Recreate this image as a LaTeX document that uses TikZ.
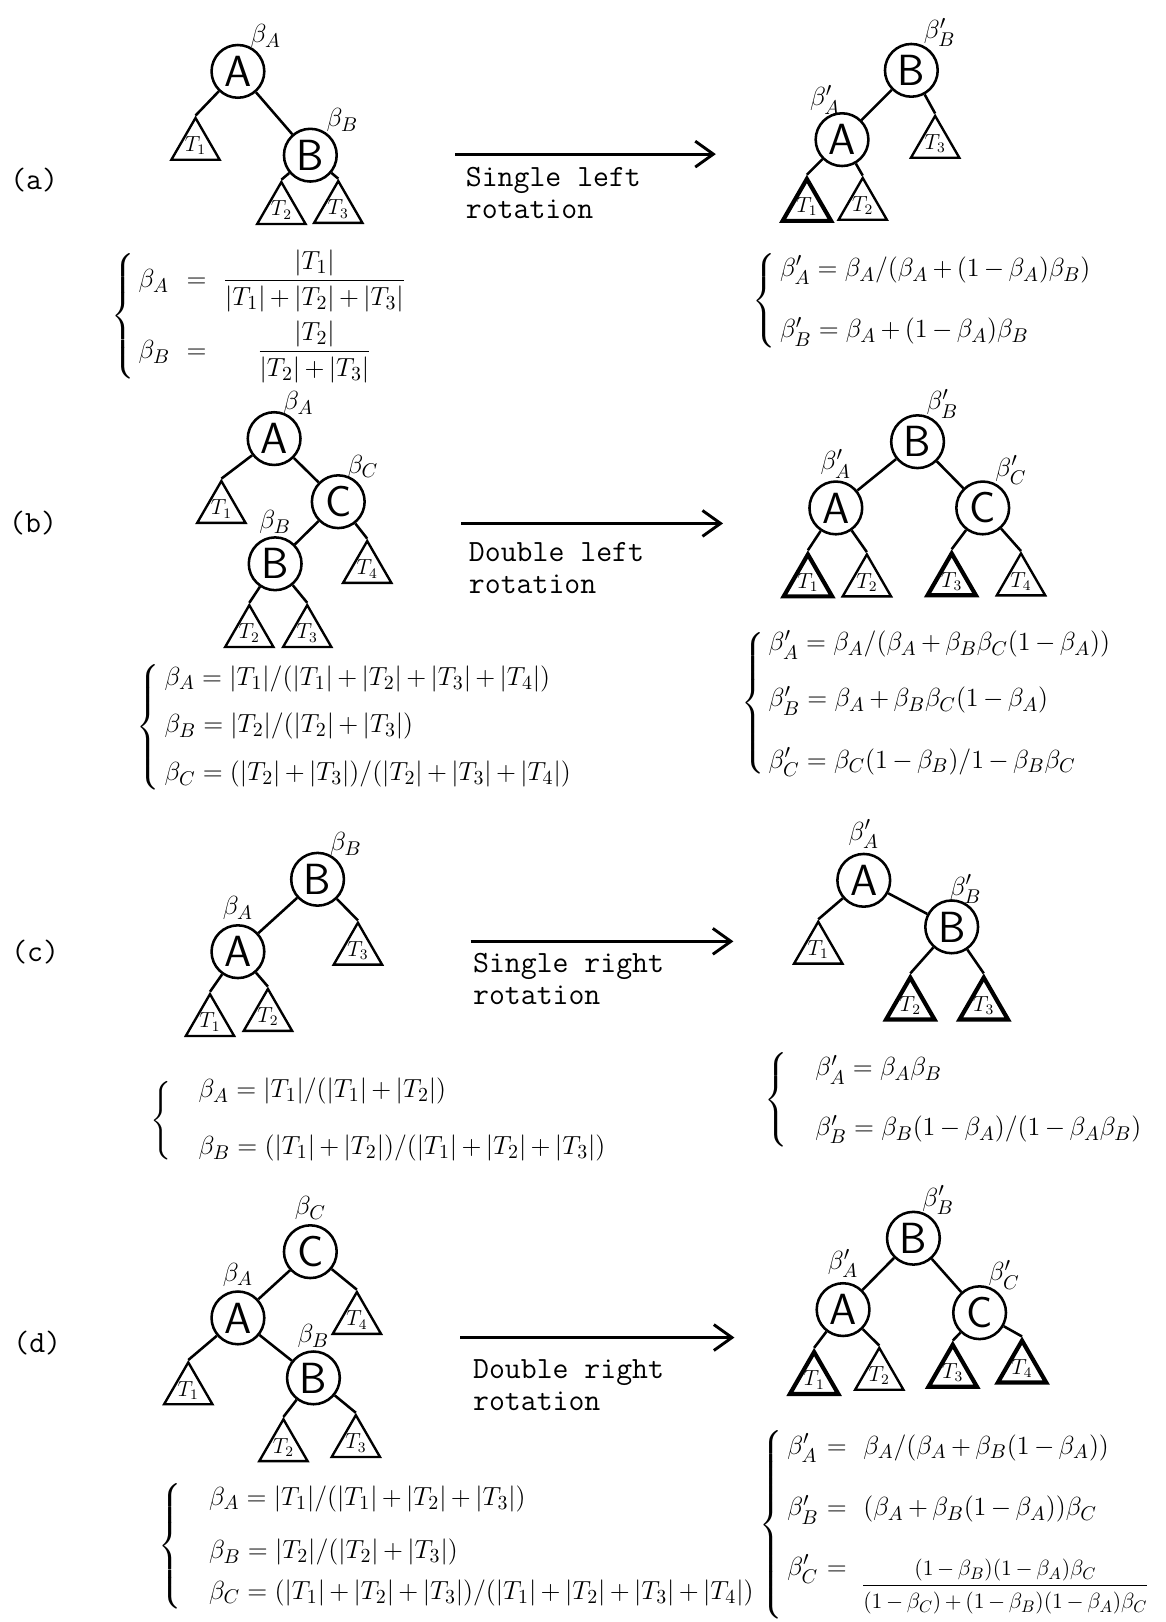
\documentclass[tikz,border=0pt]{standalone}
\usepackage{amsmath}
\usepackage{graphicx}
\usetikzlibrary{arrows.meta,positioning,shapes.geometric}
\tikzset{
  vertex/.style={
    circle,
    draw,
    line width=1.4pt,
    minimum size=1.02cm,
    inner sep=0pt,
    font=\fontsize{24}{24}\selectfont\sffamily
  },
  subtree/.style={
    regular polygon,
    regular polygon sides=3,
    draw,
    line width=1.3pt,
    minimum size=1.08cm,
    inner sep=-3pt,
    font=\fontsize{12}{12}\selectfont
  },
  heavy/.style={line width=2.3pt},
  weight/.style={font=\fontsize{15}{15}\selectfont, inner sep=0pt},
  tag/.style={font=\fontsize{17}{17}\selectfont\ttfamily, inner sep=0pt},
  caption/.style={
    font=\fontsize{17}{17.6}\selectfont\ttfamily,
    align=left,
    anchor=north west,
    inner sep=0pt
  },
  eqs/.style={font=\fontsize{15}{15}\selectfont, anchor=west, inner sep=0pt},
  link/.style={line width=1.4pt},
  rot/.style={-{Straight Barb[length=3.5mm,width=5mm]}, line width=1.6pt}
}

\begin{document}
\medmuskip=3mu\relax
\begin{tikzpicture}[x=0.02cm, y=-0.02cm]
  \useasboundingbox (0,0) rectangle (1127,1568);

  % (a)
  \node[tag] (la) at (33,174) {(a)};
  \node[vertex] (aA) at (230,69) {A};
  \node[vertex] (aB) at (300,150) {B};
  \node[subtree] (aT1) at (189,141) {$T_1$};
  \node[subtree] (aT2) at (272,203) {$T_2$};
  \node[subtree] (aT3) at (327,202) {$T_3$};
  \node[weight, above right=2pt and -4pt of aA] (waA) {$\beta_A$};
  \node[weight, above right=2pt and -2pt of aB] (waB) {$\beta_B$};
  \draw[link] (aA) -- (aT1.corner 1);
  \draw[link] (aA) -- (aB);
  \draw[link] (aB) -- (aT2.corner 1);
  \draw[link] (aB) -- (aT3.corner 1);

  \coordinate (aS) at (440,149);
  \coordinate (aE) at (692,149);
  \draw[rot] (aS) -- (aE);
  \node[caption] (ca) at (450,161) {Single left\\rotation};

  \node[vertex] (aBn) at (881,68) {B};
  \node[vertex] (aAn) at (814,135) {A};
  \node[subtree] (aT3n) at (904,139) {$T_3$};
  \node[subtree, heavy] (aT1n) at (780,200) {$T_1$};
  \node[subtree] (aT2n) at (834,199) {$T_2$};
  \node[weight, above right=2pt and -4pt of aBn] (waBn) {$\beta_B'$};
  \node[weight, above left=3pt and -10pt of aAn] (waAn) {$\beta_A'$};
  \draw[link] (aBn) -- (aAn);
  \draw[link] (aBn) -- (aT3n.corner 1);
  \draw[link] (aAn) -- (aT1n.corner 1);
  \draw[link] (aAn) -- (aT2n.corner 1);

  \node[eqs] (fa) at (107,306) {$\left\{\begin{array}{@{\,}l@{\ \ =\ \ }c@{}}
      \beta_A & \dfrac{|T_1|}{|T_1|+|T_2|+|T_3|}\\[14pt]
      \beta_B & \dfrac{|T_2|}{|T_2|+|T_3|}
    \end{array}\right.$};
  \node[eqs] (fan) at (727,291) {$\left\{\begin{array}{@{\,}l@{}}
      \beta_A' = \beta_A/(\beta_A+(1-\beta_A)\beta_B)\\[18pt]
      \beta_B' = \beta_A+(1-\beta_A)\beta_B
    \end{array}\right.$};

  % (b)
  \node[tag] (lb) at (32,506) {(b)};
  \node[vertex] (bA) at (265,424) {A};
  \node[vertex] (bC) at (327,485) {C};
  \node[vertex] (bB) at (266,545) {B};
  \node[subtree] (bT1) at (214,492) {$T_1$};
  \node[subtree] (bT4) at (355,550) {$T_4$};
  \node[subtree] (bT2) at (241,612) {$T_2$};
  \node[subtree] (bT3) at (297,612) {$T_3$};
  \node[weight, above right=2pt and -6pt of bA] (wbA) {$\beta_A$};
  \node[weight, above right=2pt and -6pt of bC] (wbC) {$\beta_C$};
  \node[weight, above=1pt of bB] (wbB) {$\beta_B$};
  \draw[link] (bA) -- (bT1.corner 1);
  \draw[link] (bA) -- (bC);
  \draw[link] (bC) -- (bB);
  \draw[link] (bC) -- (bT4.corner 1);
  \draw[link] (bB) -- (bT2.corner 1);
  \draw[link] (bB) -- (bT3.corner 1);

  \coordinate (bS) at (446,506);
  \coordinate (bE) at (699,506);
  \draw[rot] (bS) -- (bE);
  \node[caption] (cb) at (453,524) {Double left\\rotation};

  \node[vertex] (bBn) at (887,427) {B};
  \node[vertex] (bAn) at (808,491) {A};
  \node[vertex] (bCn) at (950,491) {C};
  \node[subtree, heavy] (bT1n) at (781,563) {$T_1$};
  \node[subtree] (bT2n) at (838,563) {$T_2$};
  \node[subtree, heavy] (bT3n) at (920,562) {$T_3$};
  \node[subtree] (bT4n) at (987,562) {$T_4$};
  \node[weight, above right=2pt and -6pt of bBn] (wbBn) {$\beta_B'$};
  \node[weight, above=1pt of bAn] (wbAn) {$\beta_A'$};
  \node[weight, above right=2pt and -4pt of bCn] (wbCn) {$\beta_C'$};
  \draw[link] (bBn) -- (bAn);
  \draw[link] (bBn) -- (bCn);
  \draw[link] (bAn) -- (bT1n.corner 1);
  \draw[link] (bAn) -- (bT2n.corner 1);
  \draw[link] (bCn) -- (bT3n.corner 1);
  \draw[link] (bCn) -- (bT4n.corner 1);

  \node[eqs] (fb) at (132,703) {$\left\{\begin{array}{@{\,}l@{}}
      \beta_A = |T_1|/(|T_1|+|T_2|+|T_3|+|T_4|)\\[11pt]
      \beta_B = |T_2|/(|T_2|+|T_3|)\\[11pt]
      \beta_C = (|T_2|+|T_3|)/(|T_2|+|T_3|+|T_4|)
    \end{array}\right.$};
  \node[eqs] (fbn) at (716,680) {$\left\{\begin{array}{@{\,}l@{}}
      \beta_A' = \beta_A/(\beta_A+\beta_B\beta_C(1-\beta_A))\\[15pt]
      \beta_B' = \beta_A+\beta_B\beta_C(1-\beta_A)\\[18pt]
      \beta_C' = \beta_C(1-\beta_B)/1-\beta_B\beta_C
    \end{array}\right.$};

  % (c)
  \node[tag] (lc) at (34,920) {(c)};
  \node[vertex] (cB) at (307,850) {B};
  \node[vertex] (cA) at (230,920) {A};
  \node[subtree] (cT3) at (346,919) {$T_3$};
  \node[subtree] (cT1) at (203,988) {$T_1$};
  \node[subtree] (cT2) at (259,983) {$T_2$};
  \node[weight, above right=2pt and -4pt of cB] (wcB) {$\beta_B$};
  \node[weight, above=2pt of cA] (wcA) {$\beta_A$};
  \draw[link] (cB) -- (cA);
  \draw[link] (cB) -- (cT3.corner 1);
  \draw[link] (cA) -- (cT1.corner 1);
  \draw[link] (cA) -- (cT2.corner 1);

  \coordinate (cS) at (455,910);
  \coordinate (cE) at (709,910);
  \draw[rot] (cS) -- (cE);
  \node[caption] (cc) at (457,921) {Single right\\rotation};

  \node[vertex] (cAn) at (835,851) {A};
  \node[vertex] (cBn) at (920,896) {B};
  \node[subtree] (cT1n) at (791,918) {$T_1$};
  \node[subtree, heavy] (cT2n) at (880,972) {$T_2$};
  \node[subtree, heavy] (cT3n) at (951,972) {$T_3$};
  \node[weight, above=2pt of cAn] (wcAn) {$\beta_A'$};
  \node[weight, above right=2pt and -12pt of cBn] (wcBn) {$\beta_B'$};
  \draw[link] (cAn) -- (cT1n.corner 1);
  \draw[link] (cAn) -- (cBn);
  \draw[link] (cBn) -- (cT2n.corner 1);
  \draw[link] (cBn) -- (cT3n.corner 1);

  \node[eqs] (fc) at (145,1083) {$\left\{\begin{array}{@{\quad}l@{}}
      \beta_A = |T_1|/(|T_1|+|T_2|)\\[16pt]
      \beta_B = (|T_1|+|T_2|)/(|T_1|+|T_2|+|T_3|)
    \end{array}\right.$};
  \node[eqs] (fcn) at (739,1063) {$\left\{\begin{array}{@{\quad}l@{}}
      \beta_A' = \beta_A\beta_B\\[17pt]
      \beta_B' = \beta_B(1-\beta_A)/(1-\beta_A\beta_B)
    \end{array}\right.$};

  % (d)
  \node[tag] (ld) at (36,1298) {(d)};
  \node[vertex] (dC) at (300,1210) {C};
  \node[vertex] (dA) at (230,1274) {A};
  \node[vertex] (dB) at (303,1332) {B};
  \node[subtree] (dT4) at (345,1276) {$T_4$};
  \node[subtree] (dT1) at (182,1344) {$T_1$};
  \node[subtree] (dT2) at (274,1399) {$T_2$};
  \node[subtree] (dT3) at (344,1395) {$T_3$};
  \node[weight, above=2pt of dC] (wdC) {$\beta_C$};
  \node[weight, above=2pt of dA] (wdA) {$\beta_A$};
  \node[weight, above=1pt of dB] (wdB) {$\beta_B$};
  \draw[link] (dC) -- (dA);
  \draw[link] (dC) -- (dT4.corner 1);
  \draw[link] (dA) -- (dT1.corner 1);
  \draw[link] (dA) -- (dB);
  \draw[link] (dB) -- (dT2.corner 1);
  \draw[link] (dB) -- (dT3.corner 1);

  \coordinate (dS) at (445,1293);
  \coordinate (dE) at (710,1293);
  \draw[rot] (dS) -- (dE);
  \node[caption] (cd) at (457,1314) {Double right\\rotation};

  \node[vertex] (dBn) at (883,1197) {B};
  \node[vertex] (dAn) at (815,1266) {A};
  \node[vertex] (dCn) at (947,1269) {C};
  \node[subtree, heavy] (dT1n) at (787,1334) {$T_1$};
  \node[subtree] (dT2n) at (850,1330) {$T_2$};
  \node[subtree, heavy] (dT3n) at (921,1327) {$T_3$};
  \node[subtree, heavy] (dT4n) at (988,1323) {$T_4$};
  \node[weight, above right=2pt and -6pt of dBn] (wdBn) {$\beta_B'$};
  \node[weight, above=2pt of dAn] (wdAn) {$\beta_A'$};
  \node[weight, above right=2pt and -6pt of dCn] (wdCn) {$\beta_C'$};
  \draw[link] (dBn) -- (dAn);
  \draw[link] (dBn) -- (dCn);
  \draw[link] (dAn) -- (dT1n.corner 1);
  \draw[link] (dAn) -- (dT2n.corner 1);
  \draw[link] (dCn) -- (dT3n.corner 1);
  \draw[link] (dCn) -- (dT4n.corner 1);

  \node[eqs] (fd) at (153,1495) {$\left\{\begin{array}{@{\quad}l@{}}
      \beta_A = |T_1|/(|T_1|+|T_2|+|T_3|)\\[14pt]
      \beta_B = |T_2|/(|T_2|+|T_3|)\\[7pt]
      \beta_C = (|T_1|+|T_2|+|T_3|)/(|T_1|+|T_2|+|T_3|+|T_4|)
    \end{array}\right.$};
  \node[eqs] (fdn) at (734,1474) {$\left\{\begin{array}{@{\,}l@{\ =\ \ }l@{}}
      \beta_A' & \beta_A/(\beta_A+\beta_B(1-\beta_A))\\[18pt]
      \beta_B' & (\beta_A+\beta_B(1-\beta_A))\beta_C\\[17pt]
      \beta_C' & \scalebox{0.84}{$\begin{array}[t]{@{}c@{}}
        (1-\beta_B)(1-\beta_A)\beta_C\\[2pt] \hline
        \rule{0pt}{15pt}(1-\beta_C)+(1-\beta_B)(1-\beta_A)\beta_C
      \end{array}$}
    \end{array}\right.$};
\end{tikzpicture}
\end{document}
